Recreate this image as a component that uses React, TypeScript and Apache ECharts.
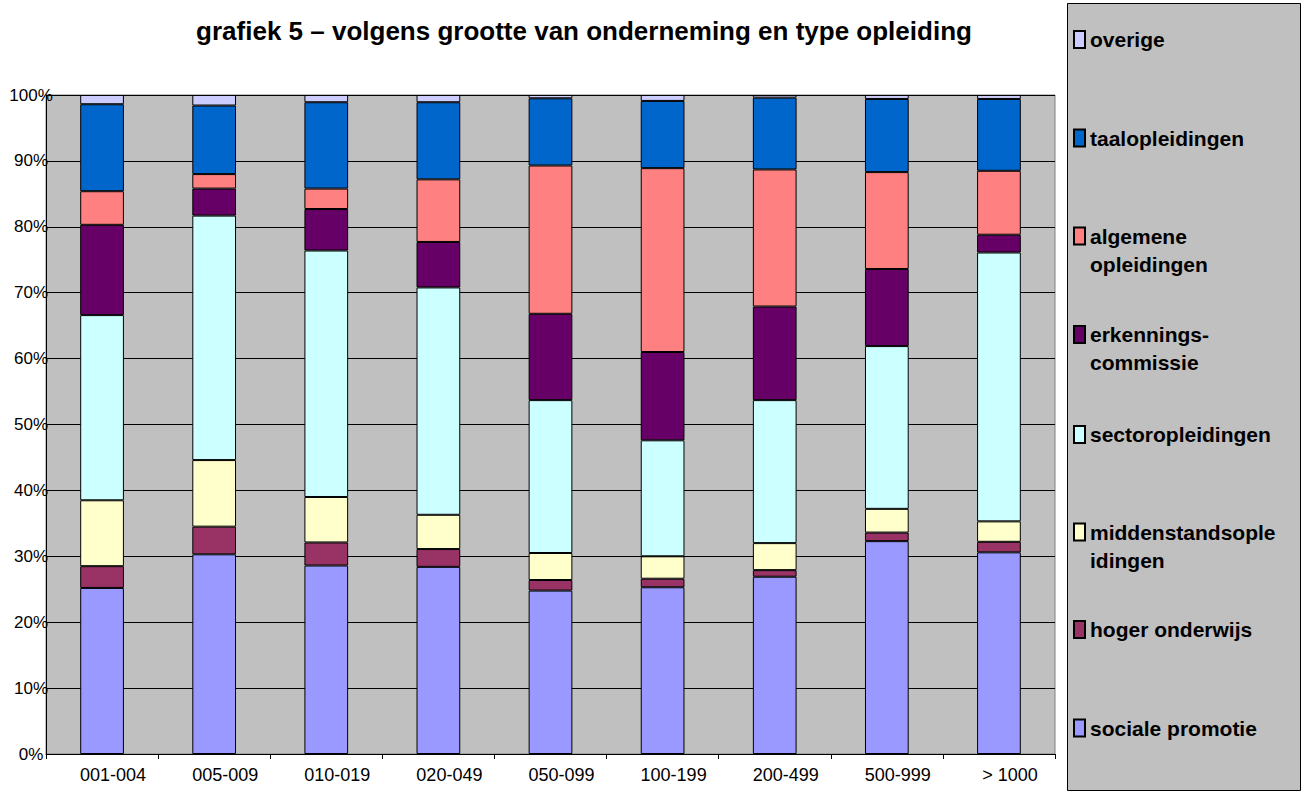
import React, { useEffect, useRef } from 'react';
import * as echarts from 'echarts';

const categories = ['001-004', '005-009', '010-019', '020-049', '050-099', '100-199', '200-499', '500-999', '> 1000'];

const socialePromotie = [25.2, 30.3, 28.6, 28.4, 24.8, 25.3, 26.9, 32.3, 30.6];
const hogerOnderwijs = [3.3, 4.2, 3.5, 2.7, 1.6, 1.3, 1.0, 1.3, 1.6];
const middenstand = [10.0, 10.1, 6.9, 5.2, 4.1, 3.4, 4.1, 3.6, 3.1];
const sectoropleidingen = [28.1, 37.1, 37.4, 34.5, 23.2, 17.6, 21.7, 24.7, 40.8];
const erkenningscommissie = [13.7, 4.1, 6.3, 6.9, 13.1, 13.4, 14.2, 11.7, 2.7];
const algemeneOpleidingen = [5.1, 2.2, 3.1, 9.5, 22.5, 27.9, 20.8, 14.7, 9.7];
const taalopleidingen = [13.2, 10.4, 13.1, 11.7, 10.2, 10.2, 10.9, 11.1, 10.9];
const overige = [1.4, 1.6, 1.1, 1.1, 0.5, 0.9, 0.4, 0.6, 0.6];

const seriesNames = [
  'sociale promotie',
  'hoger onderwijs',
  'middenstandsopleidingen',
  'sectoropleidingen',
  'erkenningscommissie',
  'algemene opleidingen',
  'taalopleidingen',
  'overige',
];
const seriesData = [
  socialePromotie,
  hogerOnderwijs,
  middenstand,
  sectoropleidingen,
  erkenningscommissie,
  algemeneOpleidingen,
  taalopleidingen,
  overige,
];
const seriesColors = ['#9999FF', '#993366', '#FFFFCC', '#CCFFFF', '#660066', '#FF8080', '#0066CC', '#CCCCFF'];

// legend labels as shown (wrapped) and icon centre y
const legendLabels = [
  'sociale promotie',
  'hoger onderwijs',
  'middenstandsople\nidingen',
  'sectoropleidingen',
  'erkennings-\ncommissie',
  'algemene\nopleidingen',
  'taalopleidingen',
  'overige',
];
const legendCenters = [728, 629.5, 532, 434.5, 334.5, 236, 138, 39.5];

const FONT = 'Arial, "Liberation Sans", sans-serif';
const LINE_H = 28;

export default function App() {
  const ref = useRef<HTMLDivElement>(null);

  useEffect(() => {
    if (!ref.current) return;
    const chart = echarts.init(ref.current, null, { renderer: 'svg' });

    const legends = seriesNames.map((name, i) => {
      const label = legendLabels[i];
      const multi = label.includes('\n');
      const text = multi ? ' \n' + label : label;
      const lines = text.split('\n').length;
      const half = (lines * LINE_H) / 2;
      return {
        data: [name],
        orient: 'vertical',
        left: 1073,
        top: legendCenters[i] - half,
        padding: 0,
        itemWidth: 11,
        itemHeight: 17,
        icon: 'rect',
        selectedMode: false,
        formatter: () => text,
        textStyle: {
          fontFamily: FONT,
          fontSize: 21,
          fontWeight: 'bold',
          color: '#000',
          lineHeight: LINE_H,
        },
      };
    });

    chart.setOption({
      animation: false,
      backgroundColor: '#FFFFFF',
      title: {
        text: 'grafiek 5 – volgens grootte van onderneming en type opleiding',
        left: 579,
        top: 13,
        textAlign: 'center',
        textStyle: { fontFamily: FONT, fontSize: 26, fontWeight: 'bold', color: '#000' },
      },
      graphic: [
        {
          type: 'rect',
          z: -10,
          shape: { x: 1067.5, y: 3.5, width: 233, height: 787 },
          style: { fill: '#C0C0C0', stroke: '#000', lineWidth: 1 },
        },
      ],
      legend: legends,
      grid: {
        left: 46,
        right: 251,
        top: 95,
        bottom: 40,
        show: true,
        backgroundColor: '#C0C0C0',
        borderColor: '#808080',
        borderWidth: 1,
      },
      xAxis: {
        type: 'category',
        data: categories,
        axisLine: { show: true, lineStyle: { color: '#000', width: 1 } },
        axisTick: { show: true, length: 5, lineStyle: { color: '#000' } },
        axisLabel: {
          fontFamily: FONT,
          fontSize: 18,
          color: '#000',
          margin: 12,
          padding: [0, 0, 0, 22],
        },
      },
      yAxis: {
        type: 'value',
        min: 0,
        max: 100,
        interval: 10,
        axisLine: { show: true, lineStyle: { color: '#000', width: 1 } },
        axisTick: { show: false },
        axisLabel: {
          formatter: '{value}%',
          fontFamily: FONT,
          fontSize: 17,
          color: '#000',
          align: 'center',
          margin: 15,
        },
        splitLine: { show: true, lineStyle: { color: '#000', width: 1 } },
      },
      series: seriesNames.map((name, i) => ({
        name,
        type: 'bar',
        stack: 'total',
        barWidth: '39%',
        data: seriesData[i],
        itemStyle: { color: seriesColors[i], borderColor: '#000', borderWidth: 1 },
      })),
    });

    return () => chart.dispose();
  }, []);

  return (
    <div
      ref={ref}
      style={{ position: 'fixed', left: 0, top: 0, width: 1306, height: 794 }}
    />
  );
}
